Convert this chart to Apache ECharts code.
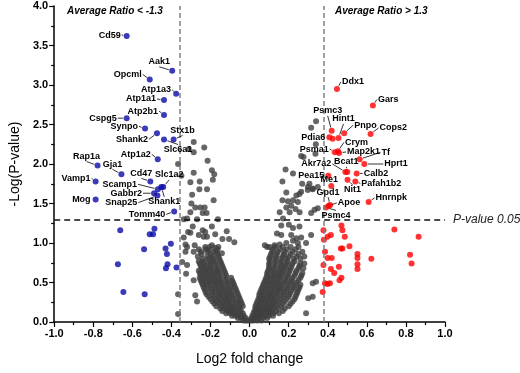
<!DOCTYPE html>
<html>
<head>
<meta charset="utf-8">
<script src="https://cdn.jsdelivr.net/npm/echarts@6/dist/echarts.min.js"></script>
<style>
html,body{margin:0;padding:0;background:#fff}
#main{width:520px;height:373px}
</style>
</head>
<body>
<div id="main"></div>
<script>
// down-regulated, labelled
var blueNames=["Cd59","Aak1","Opcml","Atp1a3","Atp1a1","Atp2b1","Cspg5","Synpo","Shank2","Stx1b","Slc6a1","Atp1a2",
    "Rap1a","Gja1","Vamp1","Cd47","Slc1a2","Shank1","Scamp1","Gabbr2","Snap25","Mog","Tomm40"];
var bluePoints=[[-0.629,3.62],[-0.396,3.18],[-0.511,3.07],[-0.376,2.89],[-0.438,2.81],[-0.438,2.62],[-0.629,2.58],
    [-0.535,2.45],[-0.474,2.39],[-0.389,2.31],[-0.438,2.31],[-0.470,2.06],[-0.778,1.98],[-0.656,1.87],[-0.788,1.78],
    [-0.508,1.78],[-0.442,1.71],[-0.452,1.71],[-0.469,1.68],[-0.489,1.63],[-0.472,1.60],[-0.788,1.55],[-0.386,1.40]];
// down-regulated, not significant
var blueOther=[[-0.662,1.16],[-0.487,1.18],[-0.511,1.11],[-0.494,1.11],[-0.403,0.99],[-0.43,0.93],[-0.540,0.92],
    [-0.423,0.86],[-0.674,0.73],[-0.420,0.73],[-0.428,0.68],[-0.374,0.69],[-0.646,0.38],[-0.537,0.35]];

// up-regulated, labelled
var redNames=["Ddx1","Gars","Psmc3","Pnpo","Cops2","Hint1","Pdia6","Crym","Psma1","Map2k1","Tf","Hprt1","Akr7a2",
    "Bcat1","Calb2","Pea15","Nit1","Pafah1b2","Me1","Hnrnpk","Gpd1","Apoe","Psmc4"];
var redPoints=[[0.447,2.95],[0.631,2.74],[0.420,2.42],[0.484,2.39],[0.619,2.38],[0.455,2.33],[0.408,2.34],[0.452,2.16],
    [0.436,2.15],[0.458,2.14],[0.563,2.06],[0.587,2.00],[0.490,1.90],[0.500,1.90],[0.548,1.88],[0.403,1.85],[0.501,1.80],
    [0.541,1.78],[0.418,1.72],[0.609,1.52],[0.412,1.48],[0.405,1.47],[0.391,1.45]];
var redOther=[[0.425,2.32],[0.378,1.16],[0.470,1.22],[0.475,1.16],[0.741,1.17],[0.865,1.08],[0.416,1.10],[0.399,1.08],
    [0.487,1.08],[0.38,1.04],[0.511,0.96],[0.467,0.93],[0.475,0.93],[0.386,0.89],[0.552,0.86],[0.821,0.85],[0.552,0.81],
    [0.399,0.81],[0.420,0.81],[0.623,0.80],[0.829,0.74],[0.552,0.73],[0.378,0.72],[0.457,0.70],[0.416,0.67],[0.552,0.67],
    [0.433,0.62],[0.470,0.56],[0.46,0.53],[0.386,0.49],[0.399,0.48],[0.411,0.49],[0.374,0.38]];

// unchanged proteins
var greyOutliers=[[-0.286,2.28],[-0.232,2.21],[-0.311,2.19],[-0.286,2.15],[-0.215,2.04],[-0.366,2.00],[-0.193,1.92],
    [-0.181,1.87],[-0.286,1.89],[-0.349,1.85],[-0.188,1.80],[-0.255,1.78],[-0.303,1.77],[-0.257,1.68],[-0.218,1.68],
    [-0.294,1.61],[-0.184,1.54],[-0.298,1.50],[-0.278,1.45],[-0.252,1.45],[-0.23,1.45],[-0.303,1.39],[-0.24,1.38],
    [-0.22,1.38],[-0.337,1.30],[-0.32,1.31],[-0.269,1.30],[-0.162,1.30],[-0.291,1.21],[-0.193,1.21],[-0.315,1.14],
    [-0.303,1.13],[-0.24,1.16],[-0.227,1.14],[-0.117,1.15],[-0.26,1.10],[-0.235,1.08],[-0.218,1.08],[-0.176,1.11],
    [-0.337,1.07],[-0.139,1.05],[-0.105,1.05],[-0.078,1.01],[-0.328,0.98],[-0.32,0.95],[-0.281,0.97],[-0.227,0.95],
    [-0.193,0.97],[-0.179,0.94],[-0.286,0.89],[-0.21,0.91],[-0.184,0.89],[-0.142,0.87],[-0.328,0.89],[-0.345,0.76],
    [-0.32,0.72],[-0.325,0.61],[-0.366,0.35],[-0.366,0.10],[-0.278,0.34],[-0.269,0.26],[-0.286,0.53],
    [0.34,2.54],[0.315,2.46],[0.339,2.25],[0.337,2.13],[0.264,2.10],[0.276,2.09],[0.184,1.93],[0.222,1.88],[0.168,1.78],
    [0.269,1.75],[0.298,1.71],[0.306,1.75],[0.323,1.68],[0.188,1.64],[0.264,1.65],[0.298,1.67],[0.323,1.69],[0.349,1.71],
    [0.239,1.60],[0.255,1.62],[0.168,1.54],[0.196,1.53],[0.222,1.54],[0.247,1.52],[0.188,1.45],[0.213,1.47],[0.235,1.43],
    [0.154,1.39],[0.205,1.39],[0.256,1.39],[0.315,1.38],[0.332,1.42],[0.349,1.44],[0.171,1.31],[0.162,1.22],[0.201,1.23],
    [0.222,1.19],[0.255,1.21],[0.14,1.12],[0.162,1.10],[0.213,1.10],[0.239,1.06],[0.264,1.07],[0.315,1.10],[0.078,0.97],
    [0.103,0.95],[0.128,0.97],[0.154,0.98],[0.188,1.00],[0.222,1.03],[0.247,1.00],[0.289,1.00],[0.34,0.51],[0.323,0.49],
    [0.323,0.32],[0.30,0.30],[0.289,0.11]];
// dense V body, one row of log2 values per -log(p) level
var bodyLevels=[0.02,0.05,0.08,0.11,0.14,0.17,0.20,0.23,0.26,0.29,0.32,0.35,0.38,0.41,0.44,0.47,0.50,0.53,0.56,0.59,
    0.62,0.65,0.68,0.71,0.74,0.77,0.80,0.83,0.86,0.89,0.92,0.95];
var bodyRows=[
    [-0.03,-0.02,-0.01,0,0.01,0.02,0.04,0.06],
    [-0.06,-0.045,-0.035,-0.02,0.01,0.02,0.035,0.05,0.07,0.09],
    [-0.09,-0.075,-0.06,-0.045,-0.03,0.015,0.03,0.045,0.06,0.08,0.1,0.12],
    [-0.12,-0.1,-0.085,-0.07,-0.055,-0.035,0.02,0.035,0.05,0.065,0.085,0.1,0.12,0.15],
    [-0.14,-0.115,-0.1,-0.085,-0.065,-0.045,0.025,0.04,0.055,0.075,0.095,0.11,0.135,0.17],
    [-0.15,-0.13,-0.11,-0.095,-0.075,-0.05,0.03,0.045,0.065,0.08,0.1,0.12,0.145,0.18],
    [-0.17,-0.145,-0.125,-0.1,-0.08,-0.055,-0.035,0.03,0.05,0.07,0.09,0.11,0.13,0.16,0.2],
    [-0.18,-0.155,-0.13,-0.11,-0.09,-0.065,-0.04,0.035,0.055,0.075,0.095,0.115,0.14,0.17,0.21],
    [-0.19,-0.165,-0.14,-0.12,-0.1,-0.07,-0.045,0.04,0.06,0.08,0.1,0.125,0.15,0.18,0.22],
    [-0.2,-0.175,-0.15,-0.125,-0.105,-0.08,-0.05,0.045,0.065,0.085,0.11,0.13,0.16,0.19,0.23],
    [-0.21,-0.18,-0.155,-0.13,-0.11,-0.085,-0.055,0.05,0.07,0.095,0.115,0.14,0.17,0.2,0.235],
    [-0.22,-0.19,-0.16,-0.14,-0.115,-0.09,-0.06,0.05,0.075,0.1,0.12,0.145,0.175,0.205,0.24],
    [-0.225,-0.195,-0.17,-0.145,-0.12,-0.095,-0.065,0.055,0.08,0.105,0.13,0.155,0.18,0.21,0.245],
    [-0.23,-0.2,-0.175,-0.15,-0.125,-0.1,-0.07,0.06,0.085,0.11,0.135,0.16,0.19,0.22,0.25],
    [-0.235,-0.21,-0.18,-0.155,-0.13,-0.1,-0.075,0.065,0.09,0.115,0.14,0.165,0.195,0.225,0.255],
    [-0.24,-0.215,-0.19,-0.165,-0.14,-0.11,-0.08,0.07,0.095,0.12,0.145,0.17,0.2,0.23,0.26],
    [-0.245,-0.22,-0.195,-0.17,-0.145,-0.115,-0.085,0.075,0.1,0.125,0.15,0.18,0.21,0.24],
    [-0.25,-0.225,-0.2,-0.175,-0.15,-0.12,-0.09,0.08,0.105,0.13,0.155,0.185,0.215,0.25],
    [-0.255,-0.23,-0.205,-0.18,-0.155,-0.125,-0.095,0.085,0.11,0.135,0.16,0.19,0.22,0.26],
    [-0.25,-0.225,-0.2,-0.175,-0.15,-0.12,0.09,0.115,0.14,0.165,0.195,0.23,0.265],
    [-0.255,-0.23,-0.205,-0.18,-0.155,-0.125,0.09,0.12,0.145,0.17,0.2,0.235,0.27],
    [-0.26,-0.235,-0.21,-0.185,-0.16,-0.13,0.095,0.12,0.15,0.175,0.205,0.24],
    [-0.245,-0.22,-0.195,-0.165,-0.135,0.1,0.125,0.155,0.18,0.21,0.25,0.275],
    [-0.25,-0.225,-0.2,-0.17,-0.14,0.1,0.13,0.16,0.185,0.215,0.255],
    [-0.255,-0.23,-0.2,-0.175,-0.145,0.1,0.13,0.16,0.19,0.22,0.26,0.28],
    [-0.26,-0.235,-0.205,-0.18,-0.15,0.105,0.135,0.165,0.195,0.23],
    [-0.24,-0.21,-0.185,-0.155,0.1,0.13,0.16,0.19,0.225,0.26],
    [-0.265,-0.215,-0.19,-0.16,0.105,0.135,0.17,0.2,0.24,0.28],
    [-0.245,-0.2,-0.165,0.11,0.14,0.175,0.21,0.25],
    [-0.25,-0.215,-0.17,0.115,0.145,0.18,0.22,0.27],
    [-0.26,-0.225,-0.165,0.12,0.155,0.19,0.235],
    [-0.205,-0.16,0.09,0.13,0.17,0.21,0.25]
];
var xTicks=[-1.0,1.0,0.2];
var yTicks=[0,4,0.5];
var leftCut=-0.365, rightCut=0.375, pCut=1.3;

// label placement: [dx, dy, align] in px from the point
var blueLabelPos=[[-6,-1,'right'],[-13,-9,'center'],[-8,-5,'right'],[-5,-4,'right'],[-8,-1,'right'],[-6,-4,'right'],
    [-10,0,'right'],[-7,-2,'right'],[-9,6,'right'],[9,-9,'center'],[14,10,'center'],[-7,-5,'right'],[-11,-9,'center'],
    [-9,-10,'center'],[-5,-3,'right'],[-9,-8,'center'],[6,-12,'center'],[3,15,'center'],[-21,-5,'right'],[-12,0,'right'],
    [-20,7,'right'],[-5,0,'right'],[-9,3,'right']];
var redLabelPos=[[5,-7,'left'],[5,-6,'left'],[-4,-20,'center'],[10,-8,'left'],[9,-6,'left'],[5,-19,'center'],
    [-4,0,'right'],[7,-9,'left'],[-6,-3,'right'],[8,-1,'left'],[22,-7,'left'],[20,0,'left'],[-14,-8,'right'],
    [-1,-10,'center'],[7,0,'left'],[-4,0,'right'],[5,10,'center'],[6,2,'left'],[-2,-7,'center'],[7,-4,'left'],
    [-2,-13,'center'],[9,-3,'left'],[10,8,'center']];

var greyData=greyOutliers.slice();
bodyRows.forEach(function(row,i){
    row.forEach(function(x){greyData.push([x,bodyLevels[i]]);});
});

var chart=echarts.init(document.getElementById("main"));
var FONT='"Liberation Sans", Arial, sans-serif';
var axisCommon={
    axisLine:{onZero:false,lineStyle:{color:"#000",width:1.5}},
    axisTick:{length:5,lineStyle:{color:"#000",width:1.2}},
    minorTick:{show:true,splitNumber:2,length:3,lineStyle:{color:"#000",width:1.2}},
    splitLine:{show:false},
    nameTextStyle:{color:"#000",fontSize:14,fontFamily:FONT}
};
option={
    animation:false,
    grid:{left:51,right:75,top:6,bottom:51},
    xAxis:Object.assign({
        type:"value",min:xTicks[0],max:xTicks[1],interval:xTicks[2],
        name:"Log2 fold change",nameLocation:"middle",nameGap:30,
        axisLabel:{color:"#000",fontSize:11,fontWeight:"bold",fontFamily:FONT,margin:6,
            formatter:function(v){return v.toFixed(1);}}
    },axisCommon),
    yAxis:Object.assign({
        type:"value",min:yTicks[0],max:yTicks[1],interval:yTicks[2],
        name:"-Log(P-value)",nameLocation:"middle",nameGap:32,
        axisLabel:{color:"#000",fontSize:11,fontWeight:"bold",fontFamily:FONT,margin:6,
            formatter:function(v){return v.toFixed(1);}}
    },axisCommon),
    series:[
        {
            type:"scatter",name:"grey",symbolSize:6,
            itemStyle:{color:"#404040"},
            data:greyData,
            markLine:{
                silent:true,symbol:"none",
                data:[
                    {xAxis:leftCut,lineStyle:{color:"#808080",type:[5,3],width:1.5},label:{show:false}},
                    {xAxis:rightCut,lineStyle:{color:"#808080",type:[5,3],width:1.5},label:{show:false}},
                    {yAxis:pCut,lineStyle:{color:"#111",type:[6,4],width:1.5},
                        label:{show:true,position:"end",distance:8,formatter:"P-value 0.05",
                            fontStyle:"italic",fontSize:12,color:"#222",fontFamily:FONT}}
                ]
            }
        },
        {type:"scatter",name:"down",symbolSize:6,itemStyle:{color:"#0a0aa8"},data:bluePoints.concat(blueOther)},
        {type:"scatter",name:"up",symbolSize:6,itemStyle:{color:"#ff0000"},data:redPoints.concat(redOther)}
    ]
};
chart.setOption(option);

function labelGraphics(names,pts,pos){
    var out=[];
    names.forEach(function(n,i){
        var p=chart.convertToPixel({gridIndex:0},pts[i]);
        var o=pos[i];
        var tx=p[0]+o[0], ty=p[1]+o[1], al=o[2];
        out.push({type:"text",x:tx,y:ty,z:100,
            style:{text:n,font:"bold 9px "+FONT,fill:"#000",align:al,verticalAlign:"middle"}});
        var ex=al==="right"?tx+1:(al==="left"?tx-1:tx);
        var ey=al==="center"?(o[1]<0?ty+5:ty-5):ty;
        var dx=ex-p[0], dy=ey-p[1], d=Math.sqrt(dx*dx+dy*dy);
        if(d>4){
            out.push({type:"line",z:100,
                shape:{x1:p[0]+dx/d*3.5,y1:p[1]+dy/d*3.5,x2:ex,y2:ey},
                style:{stroke:"#000",lineWidth:0.8}});
        }
    });
    return out;
}
var g=labelGraphics(blueNames,bluePoints,blueLabelPos).concat(labelGraphics(redNames,redPoints,redLabelPos));
g.push({type:"text",x:67,y:6,z:100,style:{text:"Average Ratio < -1.3",font:"italic bold 10px "+FONT,fill:"#000"}});
g.push({type:"text",x:335,y:6,z:100,style:{text:"Average Ratio > 1.3",font:"italic bold 10px "+FONT,fill:"#000"}});
chart.setOption({graphic:g});
</script>
</body>
</html>
